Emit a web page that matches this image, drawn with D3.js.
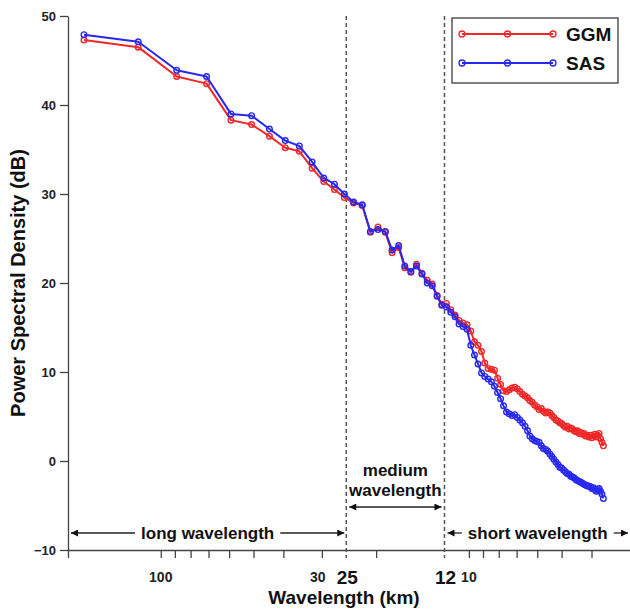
<!DOCTYPE html>
<html>
<head>
<meta charset="utf-8">
<script src="https://cdn.jsdelivr.net/npm/d3@7"></script>
<style>
  body { margin: 0; background: #fff; }
  svg { display: block; }
  text { font-family: "Liberation Sans", Arial, Helvetica, sans-serif; }
</style>
</head>
<body>
<svg id="chart" width="630" height="612"></svg>
<script>
// Wavelength of each spectral sample (km), one per wavenumber bin
const wavelengthKm = [
  177.5, 118.33, 88.75, 71, 59.17, 50.71, 44.38, 39.44, 35.5, 32.27, 29.58, 27.31, 25.36,
  23.67, 22.19, 20.88, 19.72, 18.68, 17.75, 16.9, 16.14, 15.43, 14.79, 14.2, 13.65, 13.15, 12.68, 12.24,
  11.83, 11.45, 11.09, 10.76, 10.44, 10.14, 9.86, 9.59, 9.34, 9.1, 8.88, 8.66, 8.45, 8.26, 8.07, 7.89,
  7.72, 7.55, 7.4, 7.24, 7.1, 6.96, 6.83, 6.7, 6.57, 6.45, 6.34, 6.23, 6.12, 6.02, 5.92, 5.82, 5.73,
  5.63, 5.55, 5.46, 5.38, 5.3, 5.22, 5.14, 5.07, 5, 4.93, 4.86, 4.8, 4.73, 4.67, 4.61, 4.55, 4.49,
  4.44, 4.38, 4.33, 4.28, 4.23, 4.18, 4.13, 4.08, 4.03, 3.99, 3.94, 3.9, 3.86, 3.82, 3.78, 3.74, 3.7, 3.66
];

// Power spectral density (dB) of the GGM model
const ggm = [
  47.3, 46.5, 43.2, 42.4, 38.3, 37.8, 36.5, 35.2, 34.8, 32.9, 31.4, 30.5, 29.6,
  29.0, 28.7, 25.7, 26.3, 25.7, 23.4, 24.0, 21.7, 21.2, 22.1, 21.1, 20.3, 19.9, 18.6, 17.6,
  17.7, 17.0, 16.4, 15.8, 15.5, 15.3, 14.6, 13.4, 13.0, 12.3, 11.0, 10.4, 10.3, 10.2, 9.3, 8.6,
  7.9, 7.8, 8.0, 8.2, 8.3, 8.1, 7.8, 7.5, 7.3, 7.1, 6.8, 6.6, 6.3, 6.1, 5.8, 5.9, 5.6,
  5.4, 5.5, 5.4, 5.1, 4.9, 4.6, 4.5, 4.3, 4.2, 4.0, 3.8, 3.9, 3.6, 3.7, 3.6, 3.4, 3.3,
  3.4, 3.1, 3.2, 3.0, 3.1, 2.8, 2.9, 2.7, 2.9, 2.6, 2.8, 3.0, 2.7, 2.9, 3.1, 2.5, 2.1, 1.7
];

// Power spectral density (dB) of the SAS model
const sas = [
  47.9, 47.1, 43.9, 43.2, 39.0, 38.8, 37.3, 36.0, 35.4, 33.6, 31.8, 31.1, 30.0,
  29.1, 28.8, 25.8, 26.0, 25.8, 23.7, 24.2, 21.9, 21.3, 21.9, 21.0, 20.0, 19.7, 18.5, 17.5,
  17.3, 16.7, 16.2, 15.4, 15.1, 14.8, 13.0, 11.9, 10.9, 9.9, 9.5, 9.2, 8.9, 8.4, 7.7, 7.0,
  6.2, 5.5, 5.3, 5.1, 5.2, 4.9, 4.6, 4.3, 3.9, 3.4, 2.8, 2.5, 2.3, 2.2, 2.1, 1.7, 1.4,
  1.3, 1.1, 0.8, 0.5, 0.2, -0.1, -0.4, -0.7, -0.8, -1.0, -1.2, -1.4, -1.5, -1.7, -1.8, -1.9, -2.1,
  -2.2, -2.3, -2.4, -2.5, -2.6, -2.7, -2.8, -2.8, -2.9, -3.1, -3.0, -3.2, -3.4, -3.2, -3.1, -3.4, -3.7, -4.2
];

const yTicks = [-10, 0, 10, 20, 30, 40, 50];
const xTicks = [200, 100, 90, 80, 70, 60, 50, 40, 30, 20, 10, 9, 8, 7, 6, 5, 4];
const xSmallLabels = [100, 30, 10];
const bandBoundaries = [25, 12];
const seriesNames = ["GGM", "SAS"];
const seriesColors = ["#f02828", "#2828f0"];
const bandNames = ["long wavelength", "medium wavelength", "short wavelength"];

const svg = d3.select("#chart");
const plot = { left: 68, right: 630, top: 16, bottom: 550 };

const x = d3.scaleLog().domain([200, 3]).range([plot.left, plot.right]);
const y = d3.scaleLinear().domain([-10, 50]).range([plot.bottom, plot.top]);

const axisColor = "#444";

// y axis
const yAxis = svg.append("g")
  .attr("transform", `translate(${plot.left},0)`)
  .call(d3.axisLeft(y).tickValues(yTicks).tickSize(8).tickSizeOuter(0).tickPadding(4));
yAxis.selectAll("path, line").attr("stroke", axisColor).attr("stroke-width", 1.3);
yAxis.selectAll("text")
  .attr("fill", "#222").style("font-size", "13px").style("font-weight", "bold")
  .style("font-family", '"Liberation Sans", Arial, sans-serif');

// x axis
const xAxis = svg.append("g")
  .attr("transform", `translate(0,${plot.bottom})`)
  .call(d3.axisBottom(x).tickValues(xTicks).tickSize(8).tickSizeOuter(0).tickFormat(""));
xAxis.selectAll("path, line").attr("stroke", axisColor).attr("stroke-width", 1.3);

// x tick labels: plain values and emphasised band limits
svg.append("g").selectAll("text")
  .data(xSmallLabels)
  .join("text")
  .attr("x", d => x(d) - (d === 30 ? 4 : 0))
  .attr("y", 582)
  .attr("text-anchor", "middle")
  .attr("fill", "#222")
  .style("font-size", "14px").style("font-weight", "bold")
  .text(d => d);

svg.append("g").selectAll("text")
  .data(bandBoundaries)
  .join("text")
  .attr("x", d => x(d) + 1)
  .attr("y", 584)
  .attr("text-anchor", "middle")
  .attr("fill", "#111")
  .style("font-size", "19px").style("font-weight", "bold")
  .text(d => d);

// dashed band boundaries
svg.append("g").selectAll("line")
  .data(bandBoundaries)
  .join("line")
  .attr("x1", d => x(d)).attr("x2", d => x(d))
  .attr("y1", plot.top).attr("y2", plot.bottom + 8)
  .attr("stroke", "#555").attr("stroke-width", 1.5)
  .attr("stroke-dasharray", "4,3");

// axis titles
svg.append("text")
  .attr("x", 344)
  .attr("y", 604)
  .attr("text-anchor", "middle")
  .attr("fill", "#111")
  .style("font-size", "19px").style("font-weight", "bold")
  .text("Wavelength (km)");

svg.append("text")
  .attr("transform", `translate(25,${(plot.top + plot.bottom) / 2}) rotate(-90)`)
  .attr("text-anchor", "middle")
  .attr("fill", "#111")
  .style("font-size", "20px").style("font-weight", "bold")
  .text("Power Spectral Density (dB)");

// series
const series = [ggm, sas];
const line = d3.line().x((d, i) => x(wavelengthKm[i])).y(d => y(d));
series.forEach((vals, s) => {
  const g = svg.append("g");
  g.append("path")
    .datum(vals)
    .attr("fill", "none")
    .attr("stroke", seriesColors[s])
    .attr("stroke-width", 2)
    .attr("stroke-linejoin", "round")
    .attr("d", line);
  g.selectAll("circle")
    .data(vals)
    .join("circle")
    .attr("cx", (d, i) => x(wavelengthKm[i]))
    .attr("cy", d => y(d))
    .attr("r", 2.8)
    .attr("fill", "none")
    .attr("stroke", seriesColors[s])
    .attr("stroke-width", 1.4);
});

// legend
const legend = svg.append("g");
legend.append("rect")
  .attr("x", 452).attr("y", 18).attr("width", 166).attr("height", 65)
  .attr("fill", "#fff").attr("stroke", "#555").attr("stroke-width", 1.5);
seriesNames.forEach((name, s) => {
  const ly = 34 + s * 29;
  legend.append("line")
    .attr("x1", 462).attr("x2", 553).attr("y1", ly).attr("y2", ly)
    .attr("stroke", seriesColors[s]).attr("stroke-width", 2);
  [462, 507.5, 553].forEach(cx => {
    legend.append("circle")
      .attr("cx", cx).attr("cy", ly).attr("r", 3)
      .attr("fill", "none").attr("stroke", seriesColors[s]).attr("stroke-width", 1.3);
  });
  legend.append("text")
    .attr("x", 566).attr("y", ly + 7)
    .attr("fill", "#111")
    .style("font-size", "19px").style("font-weight", "bold")
    .text(name);
});

// band annotations with arrows
const defs = svg.append("defs");
defs.append("marker")
  .attr("id", "head")
  .attr("viewBox", "0 0 10 10")
  .attr("refX", 10).attr("refY", 5)
  .attr("markerWidth", 10).attr("markerHeight", 7)
  .attr("markerUnits", "userSpaceOnUse")
  .attr("orient", "auto-start-reverse")
  .append("path").attr("d", "M0,0 L10,5 L0,10 Z").attr("fill", "#111");

const ann = svg.append("g");
function arrowLine(x1, x2, yy, startHead, endHead) {
  const l = ann.append("line")
    .attr("x1", x1).attr("x2", x2).attr("y1", yy).attr("y2", yy)
    .attr("stroke", "#222").attr("stroke-width", 1.3);
  if (startHead) l.attr("marker-start", "url(#head)");
  if (endHead) l.attr("marker-end", "url(#head)");
}
function bandLabel(text, x1, x2, yy) {
  const cx = (x1 + x2) / 2;
  const t = ann.append("text")
    .attr("x", cx).attr("y", yy + 6)
    .attr("text-anchor", "middle")
    .attr("fill", "#111")
    .style("font-size", "17px").style("font-weight", "bold")
    .text(text);
  const w = t.node().getComputedTextLength();
  arrowLine(x1, cx - w / 2 - 6, yy, true, false);
  arrowLine(cx + w / 2 + 6, x2, yy, false, true);
}

const arrowY = 533;
bandLabel(bandNames[0], x(200) + 3, x(25) - 2, arrowY);
bandLabel(bandNames[2], x(12) + 3, plot.right - 2, arrowY);

// medium band: two-line label above a double-headed arrow
const midX = (x(25) + x(12)) / 2;
const mediumWords = bandNames[1].split(" ");
ann.append("text")
  .attr("x", midX).attr("y", 476)
  .attr("text-anchor", "middle").attr("fill", "#111")
  .style("font-size", "17px").style("font-weight", "bold")
  .text(mediumWords[0]);
ann.append("text")
  .attr("x", midX).attr("y", 496)
  .attr("text-anchor", "middle").attr("fill", "#111")
  .style("font-size", "17px").style("font-weight", "bold")
  .text(mediumWords[1]);
arrowLine(x(25) + 3, x(12) - 3, 507, true, true);
</script>
</body>
</html>
